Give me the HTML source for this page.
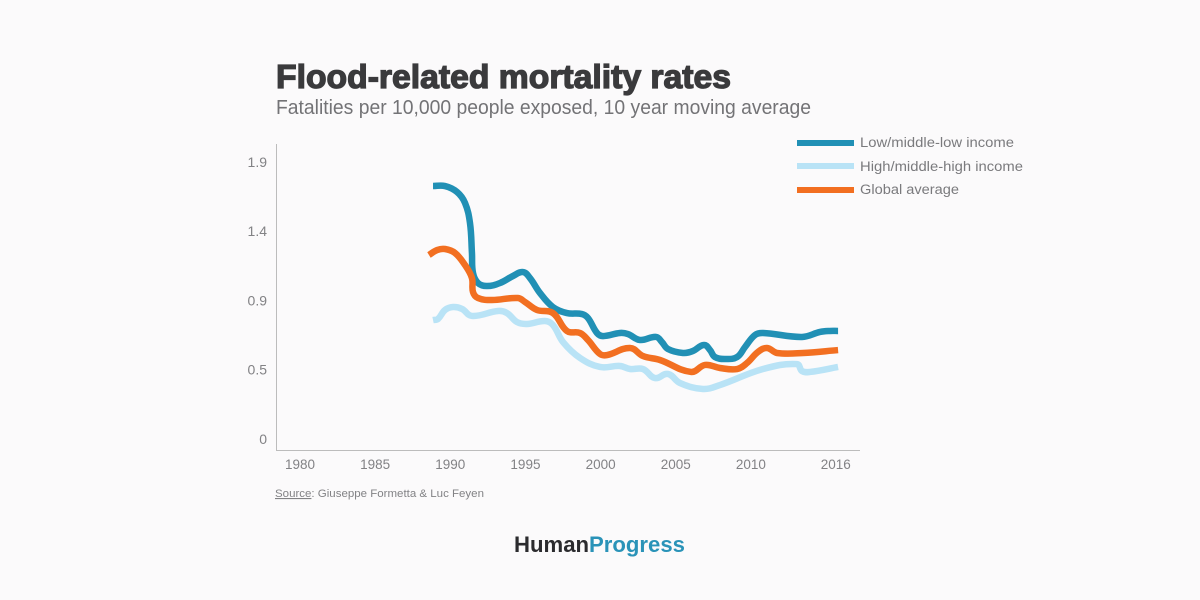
<!DOCTYPE html>
<html lang="en">
<head>
<meta charset="utf-8">
<title>Flood-related mortality rates</title>
<style>
html,body{margin:0;padding:0;width:1200px;height:600px;overflow:hidden;background:#fbfafb;}
svg{display:block;font-family:"Liberation Sans",sans-serif;}
</style>
</head>
<body>
<svg id="chart" width="1200" height="600" viewBox="0 0 1200 600" xmlns="http://www.w3.org/2000/svg">
  <rect width="1200" height="600" fill="#fbfafb"/>
  <text x="276" y="88" font-size="33" font-weight="700" fill="#3a3a3c" stroke="#3a3a3c" stroke-width="1.3" textLength="455" lengthAdjust="spacingAndGlyphs">Flood-related mortality rates</text>
  <text x="276" y="114" font-size="20" fill="#737376" textLength="535" lengthAdjust="spacingAndGlyphs">Fatalities per 10,000 people exposed, 10 year moving average</text>

  <line x1="276.5" y1="144" x2="276.5" y2="450" stroke="#bcbcbc" stroke-width="1"/>
  <line x1="276" y1="450.5" x2="860" y2="450.5" stroke="#bcbcbc" stroke-width="1"/>
  <g id="y-ticks"></g>
  <g id="x-ticks"></g>
  <g id="series"></g>

  <g>
    <g>
      <rect x="797" y="140" width="57" height="6" fill="#2190b5"/>
      <text x="860" y="147" font-size="13.5" fill="#7a7a7d" textLength="154" lengthAdjust="spacingAndGlyphs">Low/middle-low income</text>
    </g>
    <g>
      <rect x="797" y="163" width="57" height="6" fill="#b9e3f6"/>
      <text x="860" y="171" font-size="13.5" fill="#7a7a7d" textLength="163" lengthAdjust="spacingAndGlyphs">High/middle-high income</text>
    </g>
    <g>
      <rect x="797" y="187" width="57" height="6" fill="#f26f21"/>
      <text x="860" y="194" font-size="13.5" fill="#7a7a7d" textLength="99" lengthAdjust="spacingAndGlyphs">Global average</text>
    </g>
  </g>

  <text x="275" y="497" font-size="11" fill="#828285" textLength="209" lengthAdjust="spacingAndGlyphs"><tspan text-decoration="underline">Source</tspan>: Giuseppe Formetta &amp; Luc Feyen</text>
  <text x="514" y="552" font-size="22" font-weight="700" textLength="171" lengthAdjust="spacingAndGlyphs"><tspan fill="#2b2b2e">Human</tspan><tspan fill="#2a93b8">Progress</tspan></text>
</svg>
<script>
const yTickValues = [0, 0.475, 0.95, 1.425, 1.9];
const yTickLabels = ["0", "0.5", "0.9", "1.4", "1.9"];
const xTickValues = [1980, 1985, 1990, 1995, 2000, 2005, 2010, 2015.65];
const xTickLabels = ["1980", "1985", "1990", "1995", "2000", "2005", "2010", "2016"];

const lowYears = [1988.85,1989.65,1990.45,1990.98,1991.31,1991.44,1991.51,1991.84,1992.44,1993.31,1994.17,1994.84,1995.30,1995.97,1996.83,1997.76,1998.76,1999.16,1999.76,2000.16,2001.29,2001.82,2002.62,2003.69,2004.08,2004.48,2005.48,2006.15,2006.88,2007.28,2007.61,2008.28,2009.08,2009.61,2010.27,2010.81,2013.40,2014.60,2015.26,2015.80];
const lowValues = [1.735,1.735,1.694,1.619,1.481,1.276,1.139,1.070,1.049,1.070,1.118,1.145,1.104,1.001,0.905,0.864,0.857,0.830,0.727,0.706,0.727,0.720,0.679,0.700,0.665,0.617,0.590,0.604,0.645,0.610,0.562,0.549,0.562,0.631,0.713,0.727,0.700,0.734,0.741,0.741];

const highYears = [1988.85,1989.18,1989.65,1990.18,1990.78,1991.44,1993.17,1993.77,1994.44,1995.10,1996.30,1996.83,1997.50,1998.63,1999.96,2001.29,2001.96,2002.82,2003.62,2004.48,2005.28,2006.81,2007.94,2010.81,2013.07,2013.40,2013.93,2015.80];
const highValues = [0.816,0.823,0.885,0.905,0.892,0.844,0.878,0.864,0.802,0.789,0.809,0.782,0.665,0.556,0.494,0.501,0.480,0.480,0.418,0.446,0.384,0.343,0.370,0.480,0.514,0.466,0.460,0.494];

const globalYears = [1988.58,1989.12,1989.65,1990.31,1990.98,1991.44,1991.51,1991.84,1992.77,1994.50,1994.97,1995.77,1996.83,1997.76,1998.63,1999.16,1999.96,2000.43,2001.96,2002.82,2003.95,2006.01,2006.95,2007.94,2009.08,2009.74,2010.47,2011.07,2011.74,2013.47,2015.80];
const globalValues = [1.262,1.296,1.303,1.276,1.193,1.104,1.008,0.967,0.953,0.967,0.940,0.885,0.864,0.741,0.727,0.679,0.583,0.576,0.624,0.569,0.542,0.460,0.508,0.487,0.480,0.521,0.597,0.624,0.590,0.590,0.610];

const SVG_NS = "http://www.w3.org/2000/svg";

function xScale(year) {
  return 300 + (year - 1980) * 15.03;
}

function yScale(value) {
  return 439 - value * 145.8;
}

function handle(from, to, length) {
  const dx = to[0] - from[0];
  const dy = to[1] - from[1];
  const norm = Math.hypot(dx, dy) || 1;
  return [dx / norm * length, dy / norm * length];
}

function smoothPath(years, values) {
  const pts = years.map(function (year, i) {
    return [xScale(year), yScale(values[i])];
  });
  let d = "M" + pts[0][0].toFixed(2) + " " + pts[0][1].toFixed(2);
  for (let i = 0; i < pts.length - 1; i++) {
    const p0 = pts[Math.max(i - 1, 0)];
    const p1 = pts[i];
    const p2 = pts[i + 1];
    const p3 = pts[Math.min(i + 2, pts.length - 1)];
    const span = Math.hypot(p2[0] - p1[0], p2[1] - p1[1]) * 0.38;
    const h1 = handle(p0, p2, span);
    const h2 = handle(p1, p3, span);
    const c1x = p1[0] + h1[0];
    const c1y = p1[1] + h1[1];
    const c2x = p2[0] - h2[0];
    const c2y = p2[1] - h2[1];
    d += "C" + c1x.toFixed(2) + " " + c1y.toFixed(2) + " " + c2x.toFixed(2) + " " + c2y.toFixed(2) + " " + p2[0].toFixed(2) + " " + p2[1].toFixed(2);
  }
  return d;
}

const yTickGroup = document.getElementById("y-ticks");
yTickValues.forEach(function (value, i) {
  const t = document.createElementNS(SVG_NS, "text");
  
  
  t.setAttribute("x", 267);
  t.setAttribute("y", yScale(value) + 5);
  t.setAttribute("text-anchor", "end");
  t.setAttribute("font-size", "14");
  t.setAttribute("fill", "#828285");
  t.textContent = yTickLabels[i];
  yTickGroup.appendChild(t);
});

const xTickGroup = document.getElementById("x-ticks");
xTickValues.forEach(function (year, i) {
  const t = document.createElementNS(SVG_NS, "text");
  
  
  t.setAttribute("x", xScale(year));
  t.setAttribute("y", 469);
  t.setAttribute("text-anchor", "middle");
  t.setAttribute("font-size", "13.5");
  t.setAttribute("fill", "#828285");
  t.textContent = xTickLabels[i];
  xTickGroup.appendChild(t);
});

const seriesGroup = document.getElementById("series");

const lowLine = document.createElementNS(SVG_NS, "path");


lowLine.setAttribute("d", smoothPath(lowYears, lowValues));
lowLine.setAttribute("stroke", "#2190b5");
seriesGroup.appendChild(lowLine);

const highLine = document.createElementNS(SVG_NS, "path");


highLine.setAttribute("d", smoothPath(highYears, highValues));
highLine.setAttribute("stroke", "#b9e3f6");
seriesGroup.appendChild(highLine);

const globalLine = document.createElementNS(SVG_NS, "path");


globalLine.setAttribute("d", smoothPath(globalYears, globalValues));
globalLine.setAttribute("stroke", "#f26f21");
seriesGroup.appendChild(globalLine);

[lowLine, highLine, globalLine].forEach(function (line) {
  line.setAttribute("fill", "none");
  line.setAttribute("stroke-width", "6.5");
  line.setAttribute("stroke-linejoin", "round");
});
</script>
</body>
</html>
